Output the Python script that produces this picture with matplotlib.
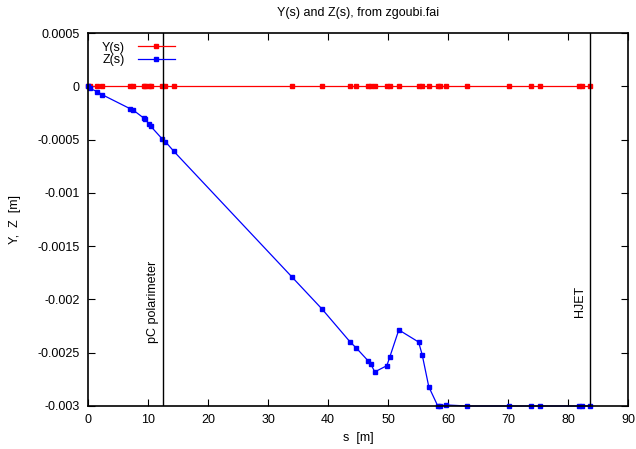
import matplotlib
matplotlib.use("Agg")
import matplotlib.pyplot as plt
import numpy as np

plt.rcParams['font.family'] = ['Liberation Sans', 'DejaVu Sans']
plt.rcParams['font.size'] = 9

# positions along the line (m)
s = [0.0, 0.3, 1.55, 2.4, 7.0, 7.45, 9.33, 9.55, 10.1, 10.45, 12.3, 12.9, 14.3,
     34.0, 39.0, 43.7, 44.7, 46.7, 47.1, 47.8, 49.8, 50.3, 51.8, 55.1, 55.7,
     56.8, 58.3, 58.7, 59.6, 63.1, 70.2, 73.8, 75.3, 81.9, 82.3, 83.7]
Y = [0.0] * len(s)
Z = [0.0, -0.00002, -0.00005, -0.00008, -0.00021, -0.00022, -0.0003, -0.00031,
     -0.00035, -0.000375, -0.00049, -0.00052, -0.00061,
     -0.00179, -0.00209, -0.0024, -0.002455, -0.002577, -0.002604, -0.00268,
     -0.002622, -0.00254, -0.002286, -0.0024, -0.00252, -0.00282,
     -0.003, -0.003, -0.00299, -0.003, -0.003, -0.003, -0.003, -0.003, -0.003, -0.003]

markers = [("pC polarimeter", 12.5), ("HJET", 83.6)]

fig = plt.figure(figsize=(6.36, 4.49), dpi=100)
ax = fig.add_axes([0.1384, 0.0958, 0.849, 0.8307])

ax.plot(s, Y, color='red', lw=0.9, marker='s', ms=3.2, label='Y(s)', clip_on=False)
ax.plot(s, Z, color='blue', lw=0.9, marker='s', ms=3.2, label='Z(s)', clip_on=False)

for name, pos in markers:
    ax.axvline(pos, color='black', lw=1)
    ax.text(pos - 1.6, -0.00202, name, rotation=90, ha='center', va='center')

ax.set_xlim(0, 90)
ax.set_ylim(-0.003, 0.0005)
ax.set_xticks(np.arange(0, 91, 10))
yt = [0.0005, 0, -0.0005, -0.001, -0.0015, -0.002, -0.0025, -0.003]
ax.set_yticks(yt)
ax.set_yticklabels(['0.0005', '0', '-0.0005', '-0.001', '-0.0015', '-0.002', '-0.0025', '-0.003'])
ax.tick_params(direction='in', top=True, right=True, length=5, width=0.8)
ax.tick_params(axis='y', pad=6)
ax.tick_params(axis='x', pad=6)
for sp in ax.spines.values():
    sp.set_linewidth(1.2)

ax.set_xlabel('s  [m]', labelpad=4)
ax.set_ylabel('Y,  Z  [m]', labelpad=12)
ax.set_title('Y(s) and Z(s), from zgoubi.fai', fontsize=9, pad=12)

leg = ax.legend(loc='upper left', frameon=False, markerfirst=False,
                handlelength=3.0, borderaxespad=0.3, labelspacing=0.05,
                handletextpad=1.0, bbox_to_anchor=(0.01, 1.0))

fig.savefig('out.png', dpi=100)
